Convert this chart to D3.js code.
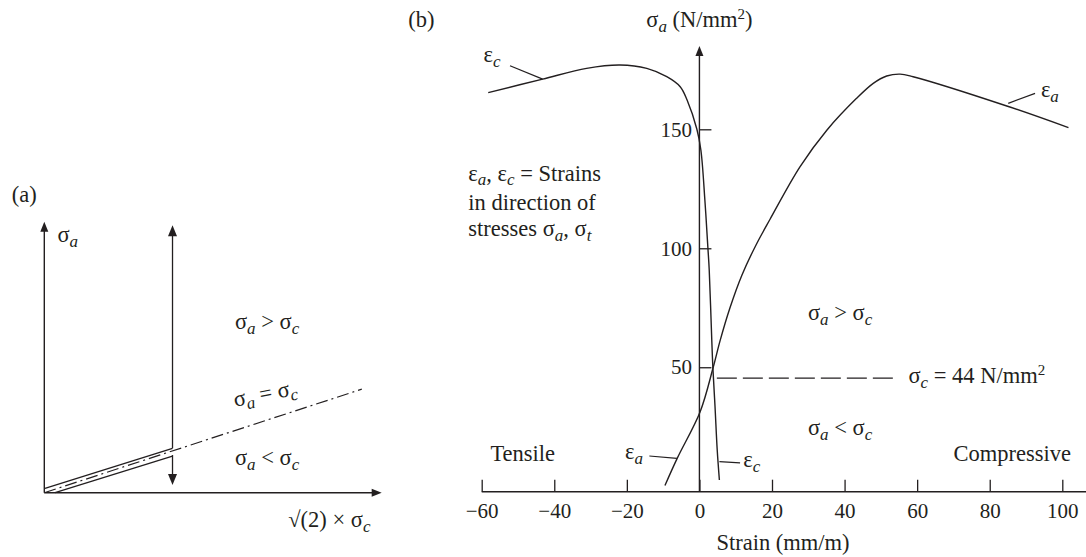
<!DOCTYPE html>
<html><head><meta charset="utf-8">
<script src="https://cdn.jsdelivr.net/npm/d3@7"></script>
<style>
html,body{margin:0;padding:0;background:#fff;}
text{font-family:"Liberation Serif","Times New Roman",serif;fill:#231f20;}
</style></head>
<body><svg id="c" width="1086" height="557"></svg>
<script>
// ---------- Data (panel b) ----------
const strainTicks = [-60, -40, -20, 0, 20, 40, 60, 80, 100];
const stressTicks = [50, 100, 150];
// epsilon_c curve (strain mm/m, stress N/mm2)
const ecStrain = [-58.2, -43.2, -31.1, -21.9, -14.5, -9.0, -5.3, -3.4, -0.7, 0.4, 1.5, 2.3, 2.7, 3.4, 3.7, 4.3, 4.9, 5.5];
const ecStress = [165.4, 171.1, 175.6, 177.0, 175.6, 172.1, 167.9, 162.3, 150, 141.3, 120.3, 101, 90.9, 61.5, 50, 33.4, 15.3, 2.6];
// epsilon_a curve
const eaStrain = [-9.5, -6.1, 0.2, 3.8, 5.7, 8.4, 11.7, 15.6, 19.5, 27.7, 35.1, 43.3, 47.9, 51.6, 55.3, 58.9, 84.7, 101.7];
const eaStress = [0.3, 11.8, 31.3, 50.0, 61.2, 74.9, 88.7, 101.4, 112.3, 134.2, 149.6, 163.0, 169.3, 172.4, 173.2, 172.1, 159.8, 150.7];
// sigma_c reference
const sigmaCLabel = 44;
const sigmaCLine = [4.8, 53.9];   // strain extent of dashed line
const sigmaCLevel = 45.4;          // drawn level

// ---------- Data (panel a, schematic units 0..100) ----------
const aDashDot = [[0, 0], [94.1, 38.2]];
const aUpper = [[0.2, 1.6], [38, 16.4]];
const aLower = [[3.2, 0], [38, 13.5]];
const aUpArrow = [[38, 16.4], [38, 98.7]];
const aDownArrow = [[38, 13.9], [38, 2.8]];

const svg = d3.select("#c");
const INK = "#231f20";
const FS = 22.5, SFS = 17, TFS = 21;

function rich(g, x, y, parts, opts = {}) {
  const t = g.append("text").attr("x", x).attr("y", y).attr("font-size", opts.fs || FS);
  if (opts.anchor) t.attr("text-anchor", opts.anchor);
  if (opts.rot) t.attr("transform", `rotate(${opts.rot},${x},${y})`);
  const subShift = opts.sub != null ? opts.sub : 5;
  let shift = 0;
  parts.forEach(p => {
    const s = t.append("tspan").text(p[0]);
    let target = 0;
    if (p[1] === "sub") { s.attr("font-size", SFS).attr("font-style", "italic"); target = subShift; }
    else if (p[1] === "sup") { s.attr("font-size", 15); target = -8; }
    if (target !== shift) { s.attr("dy", target - shift); shift = target; }
  });
  return t;
}
function arrowHead(g, x, y, dir, len = 10, w = 8) {
  let p;
  if (dir === "up") p = [[x, y], [x - w / 2, y + len], [x + w / 2, y + len]];
  else if (dir === "down") p = [[x, y], [x - w / 2, y - len], [x + w / 2, y - len]];
  else p = [[x, y], [x - len, y - w / 2], [x - len, y + w / 2]];
  g.append("path").attr("d", "M" + p.map(d => d.join(",")).join("L") + "Z").attr("fill", INK);
}

// ================= Panel (b) =================
const gb = svg.append("g");
const xB = d3.scaleLinear().domain([-60, 100]).range([481.7, 1062.3]);
const yB = d3.scaleLinear().domain([-2.3, 150]).range([491.7, 129.3]);

// x axis
gb.append("line").attr("x1", xB(-60)).attr("x2", 1086).attr("y1", yB(-2.3)).attr("y2", yB(-2.3))
  .attr("stroke", INK).attr("stroke-width", 1.4);
const xAx = gb.append("g").attr("transform", `translate(0,${yB(-2.3)})`)
  .call(d3.axisBottom(xB).tickValues(strainTicks).tickSizeInner(-12).tickSizeOuter(0).tickPadding(11));
xAx.select(".domain").remove();
xAx.selectAll("line").attr("stroke", INK).attr("stroke-width", 1.3);
xAx.selectAll("text").attr("font-size", TFS).attr("font-family", null).attr("fill", INK);

// y axis
gb.append("line").attr("x1", xB(0)).attr("x2", xB(0)).attr("y1", yB(-2.3)).attr("y2", 52)
  .attr("stroke", INK).attr("stroke-width", 1.4);
arrowHead(gb, xB(0), 46, "up", 10, 8);
const yAx = gb.append("g").attr("transform", `translate(${xB(0)},0)`)
  .call(d3.axisLeft(yB).tickValues(stressTicks).tickSizeInner(-12).tickSizeOuter(0).tickPadding(7.5));
yAx.select(".domain").remove();
yAx.selectAll("line").attr("stroke", INK).attr("stroke-width", 1.3);
yAx.selectAll("text").attr("font-size", TFS).attr("font-family", null).attr("fill", INK);

// curves
const lineB = d3.line().x(d => xB(d[0])).y(d => yB(d[1])).curve(d3.curveCatmullRom.alpha(0.5));
const ec = ecStrain.map((s, i) => [s, ecStress[i]]);
const ea = eaStrain.map((s, i) => [s, eaStress[i]]);
gb.append("path").attr("d", lineB(ec)).attr("fill", "none").attr("stroke", INK).attr("stroke-width", 1.4);
gb.append("path").attr("d", lineB(ea)).attr("fill", "none").attr("stroke", INK).attr("stroke-width", 1.4);

// sigma_c dashed line
gb.append("line").attr("x1", xB(sigmaCLine[0])).attr("x2", xB(sigmaCLine[1]))
  .attr("y1", yB(sigmaCLevel)).attr("y2", yB(sigmaCLevel))
  .attr("stroke", INK).attr("stroke-width", 1.3).attr("stroke-dasharray", "20,6");

// leader lines
const leaders = [
  [[-52.2, 176.7], [-43.2, 171.1]],
  [[92.5, 165.1], [85.1, 160.9]],
  [[-13.8, 12.7], [-6.2, 11.7]],
  [[5.5, 10.3], [11.2, 9.8]]
];
leaders.forEach(l => gb.append("line").attr("x1", xB(l[0][0])).attr("y1", yB(l[0][1]))
  .attr("x2", xB(l[1][0])).attr("y2", yB(l[1][1])).attr("stroke", INK).attr("stroke-width", 1.2));

// labels panel b
rich(gb, 408.3, 26.7, [["(b)"]]);
rich(gb, xB(0), 26.7, [["σ"], ["a", "sub"], [" (N/mm"], ["2", "sup"], [")"]], { anchor: "middle" });
rich(gb, xB(-59.5), yB(178.4), [["ε"], ["c", "sub"]]);
rich(gb, xB(94.1), yB(163.7), [["ε"], ["a", "sub"]]);
rich(gb, 468.3, 180.5, [["ε"], ["a", "sub"], [", ε"], ["c", "sub"], [" = Strains"]], { sub: 4.5 });
rich(gb, 468.3, 209.5, [["in direction of"]]);
rich(gb, 468.3, 236, [["stresses σ"], ["a", "sub"], [", σ"], ["t", "sub"]], { sub: 4.5 });
rich(gb, xB(29.9), yB(69.9), [["σ"], ["a", "sub"], [" > σ"], ["c", "sub"]]);
rich(gb, xB(57.6), yB(43.3), [["σ"], ["c", "sub"], [" = " + sigmaCLabel + " N/mm"], ["2", "sup"]]);
rich(gb, xB(29.9), yB(21.5), [["σ"], ["a", "sub"], [" < σ"], ["c", "sub"]]);
rich(gb, xB(-57.6), yB(10.6), [["Tensile"]]);
rich(gb, xB(70.0), yB(10.6), [["Compressive"]]);
rich(gb, xB(-20.5), yB(11.3), [["ε"], ["a", "sub"]]);
rich(gb, xB(12.1), yB(8.2), [["ε"], ["c", "sub"]]);
rich(gb, 783, 550, [["Strain (mm/m)"]], { anchor: "middle" });

// ================= Panel (a) =================
const ga = svg.append("g");
const xA = d3.scaleLinear().domain([0, 100]).range([44.3, 381.7]);
const yA = d3.scaleLinear().domain([0, 100]).range([492.7, 221.7]);
const lineA = d3.line().x(d => xA(d[0])).y(d => yA(d[1]));
ga.append("line").attr("x1", xA(0)).attr("y1", yA(0)).attr("x2", xA(100) - 8).attr("y2", yA(0)).attr("stroke", INK).attr("stroke-width", 1.4);
arrowHead(ga, xA(100), yA(0), "right", 10, 8);
ga.append("line").attr("x1", xA(0)).attr("y1", yA(0)).attr("x2", xA(0)).attr("y2", yA(100) + 8).attr("stroke", INK).attr("stroke-width", 1.4);
arrowHead(ga, xA(0), yA(100), "up", 10, 8);

ga.append("path").attr("d", lineA(aDashDot)).attr("fill", "none").attr("stroke", INK).attr("stroke-width", 1.2).attr("stroke-dasharray", "12,4,2,4");
ga.append("path").attr("d", lineA(aUpper)).attr("fill", "none").attr("stroke", INK).attr("stroke-width", 1.3);
ga.append("path").attr("d", lineA(aLower)).attr("fill", "none").attr("stroke", INK).attr("stroke-width", 1.3);
ga.append("path").attr("d", lineA([aUpArrow[0], [aUpArrow[1][0], aUpArrow[1][1] - 3]])).attr("fill", "none").attr("stroke", INK).attr("stroke-width", 1.3);
arrowHead(ga, xA(aUpArrow[1][0]), yA(aUpArrow[1][1]), "up", 11, 9);
ga.append("path").attr("d", lineA([aDownArrow[0], [aDownArrow[1][0], aDownArrow[1][1] + 3]])).attr("fill", "none").attr("stroke", INK).attr("stroke-width", 1.3);
arrowHead(ga, xA(aDownArrow[1][0]), yA(aDownArrow[1][1]), "down", 11, 9);

rich(ga, 11.7, 201.7, [["(a)"]]);
rich(ga, xA(3.9), yA(92.6), [["σ"], ["a", "sub"]]);
rich(ga, xA(56.5), yA(60.5), [["σ"], ["a", "sub"], [" > σ"], ["c", "sub"]]);
rich(ga, xA(56.5), yA(31.7), [["σ"], ["a", "sub"], [" = σ"], ["c", "sub"]], { rot: -11 });
rich(ga, xA(56.5), yA(10.2), [["σ"], ["a", "sub"], [" < σ"], ["c", "sub"]]);
rich(ga, xA(72.3), yA(-12.5), [["√(2) × σ"], ["c", "sub"]]);
</script></body></html>
